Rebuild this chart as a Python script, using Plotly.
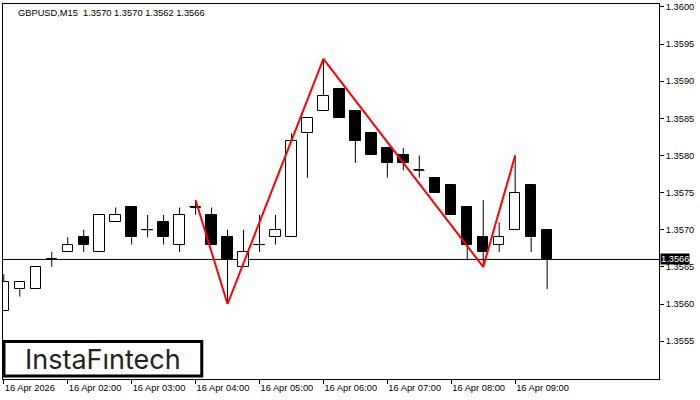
import plotly.graph_objects as go

# GBPUSD M15 bars, 16 Apr 2026 01:00 .. 09:30
opens = [1.3559, 1.3562, 1.3562, 1.3566, 1.3567, 1.3569, 1.3567, 1.3571, 1.3573, 1.3570,
         1.3571, 1.3568, 1.3573, 1.3572, 1.3569, 1.3565, 1.3568, 1.3569, 1.3569, 1.3583,
         1.3586, 1.3589, 1.3586, 1.3583, 1.3581, 1.3580, 1.3578, 1.3577, 1.3576, 1.3573,
         1.3569, 1.3568, 1.3570, 1.3576, 1.3570]
highs = [1.3564, 1.3563, 1.3565, 1.3567, 1.3569, 1.3570, 1.3572, 1.3573, 1.3573, 1.3572,
         1.3572, 1.3573, 1.3574, 1.3573, 1.3570, 1.3570, 1.3572, 1.3572, 1.3583, 1.3585,
         1.3593, 1.3589, 1.3586, 1.3583, 1.3581, 1.3581, 1.3580, 1.3577, 1.3576, 1.3573,
         1.3574, 1.3571, 1.3580, 1.3576, 1.3570]
lows = [1.3559, 1.3561, 1.3562, 1.3565, 1.3567, 1.3567, 1.3567, 1.3571, 1.3568, 1.3569,
        1.3568, 1.3567, 1.3572, 1.3568, 1.3560, 1.3565, 1.3567, 1.3568, 1.3569, 1.3577,
        1.3586, 1.3585, 1.3579, 1.3580, 1.3577, 1.3578, 1.3577, 1.3575, 1.3572, 1.3566,
        1.3565, 1.3567, 1.3570, 1.3567, 1.3562]
closes = [1.3563, 1.3563, 1.3565, 1.3566, 1.3568, 1.3568, 1.3572, 1.3572, 1.3569, 1.3570,
          1.3569, 1.3572, 1.3573, 1.3568, 1.3566, 1.3567, 1.3568, 1.3570, 1.3582, 1.3585,
          1.3588, 1.3585, 1.3582, 1.3580, 1.3579, 1.3579, 1.3578, 1.3575, 1.3572, 1.3568,
          1.3567, 1.3569, 1.3575, 1.3569, 1.3566]

tick_bars = [0, 4, 8, 12, 16, 20, 24, 28, 32]
tick_labels = ["16 Apr 2026", "16 Apr 02:00", "16 Apr 03:00", "16 Apr 04:00", "16 Apr 05:00",
               "16 Apr 06:00", "16 Apr 07:00", "16 Apr 08:00", "16 Apr 09:00"]
price_ticks = [1.3555, 1.3560, 1.3565, 1.3570, 1.3575, 1.3580, 1.3585, 1.3590, 1.3595, 1.3600]

# pattern drawn on the chart (bar index, price)
pattern_bars = [12, 14, 20, 30, 32]
pattern_prices = [1.3574, 1.3560, 1.3593, 1.3565, 1.3580]

last_price = 1.3566
title_text = "GBPUSD,M15  1.3570 1.3570 1.3562 1.3566"

FONT = "Liberation Sans, Arial, sans-serif"
body_w = 0.65

idx = list(range(len(opens)))

# wicks, split so they don't cross the bodies
wx, wy = [], []
for i, o, h, l, c in zip(idx, opens, highs, lows, closes):
    top, bot = max(o, c), min(o, c)
    if h > top:
        wx += [i, i, None]
        wy += [top, h, None]
    if l < bot:
        wx += [i, i, None]
        wy += [l, bot, None]

# doji bars get a flat dash
dx, dy = [], []
for i, o, c in zip(idx, opens, closes):
    if abs(o - c) < 1e-9:
        dx += [i - body_w / 2, i + body_w / 2, None]
        dy += [o, o, None]

fig = go.Figure()

fig.add_trace(go.Bar(
    x=idx,
    y=[abs(c - o) for o, c in zip(opens, closes)],
    base=[min(o, c) for o, c in zip(opens, closes)],
    width=body_w,
    marker=dict(color=["white" if c > o else "black" for o, c in zip(opens, closes)],
                line=dict(color="black", width=1)),
    hoverinfo="skip",
))
fig.add_trace(go.Scatter(x=wx, y=wy, mode="lines", line=dict(color="black", width=1),
                         hoverinfo="skip"))
fig.add_trace(go.Scatter(x=dx, y=dy, mode="lines", line=dict(color="black", width=1),
                         hoverinfo="skip"))
fig.add_trace(go.Scatter(x=pattern_bars, y=pattern_prices, mode="lines",
                         line=dict(color="#ff0000", width=2), hoverinfo="skip"))

# bid line
fig.add_shape(type="line", xref="paper", x0=0, x1=1, yref="y", y0=last_price, y1=last_price,
              line=dict(color="black", width=1), layer="below")

# logo box
fig.add_shape(type="rect", xref="paper", yref="paper", x0=0.0015, x1=0.303, y0=0.008, y1=0.1,
              line=dict(color="black", width=3), fillcolor="white")
fig.add_annotation(xref="paper", yref="paper", x=0.152, y=0.053, xanchor="center", yanchor="middle",
                   text="InstaF\u0131ntech", showarrow=False,
                   font=dict(family="Inter, Lato, sans-serif", size=27, weight=400, color="#222222"))

fig.add_annotation(xref="paper", yref="paper", x=0.02, y=0.976, xanchor="left", yanchor="middle",
                   text=title_text, showarrow=False, font=dict(family=FONT, size=9.3, color="black"))

fig.add_annotation(xref="paper", yref="y", x=1, y=last_price, xanchor="left", yanchor="middle",
                   xshift=1, text=str(last_price), showarrow=False, bgcolor="black", borderpad=0,
                   font=dict(family=FONT, size=9.3, color="white"))

fig.update_layout(
    width=700, height=400,
    margin=dict(l=2, r=41, t=2, b=21),
    paper_bgcolor="white", plot_bgcolor="white",
    showlegend=False, bargap=0,
    font=dict(family=FONT, size=9.3, color="black"),
)
fig.update_xaxes(
    range=[-0.05, 41.0], tickvals=tick_bars, ticktext=tick_labels,
    ticks="outside", ticklen=4, tickcolor="black", ticklabelposition="outside right",
    showgrid=False, zeroline=False, showline=True, linecolor="black", linewidth=1, mirror=True,
)
fig.update_yaxes(
    range=[1.35499, 1.36004], side="right", tickvals=price_ticks, tickformat=".4f",
    ticks="outside", ticklen=4, tickcolor="black",
    showgrid=False, zeroline=False, showline=True, linecolor="black", linewidth=1, mirror=True,
)

fig.write_html("out.html", config={"displayModeBar": False},
               post_script="document.body.style.margin='0';")
